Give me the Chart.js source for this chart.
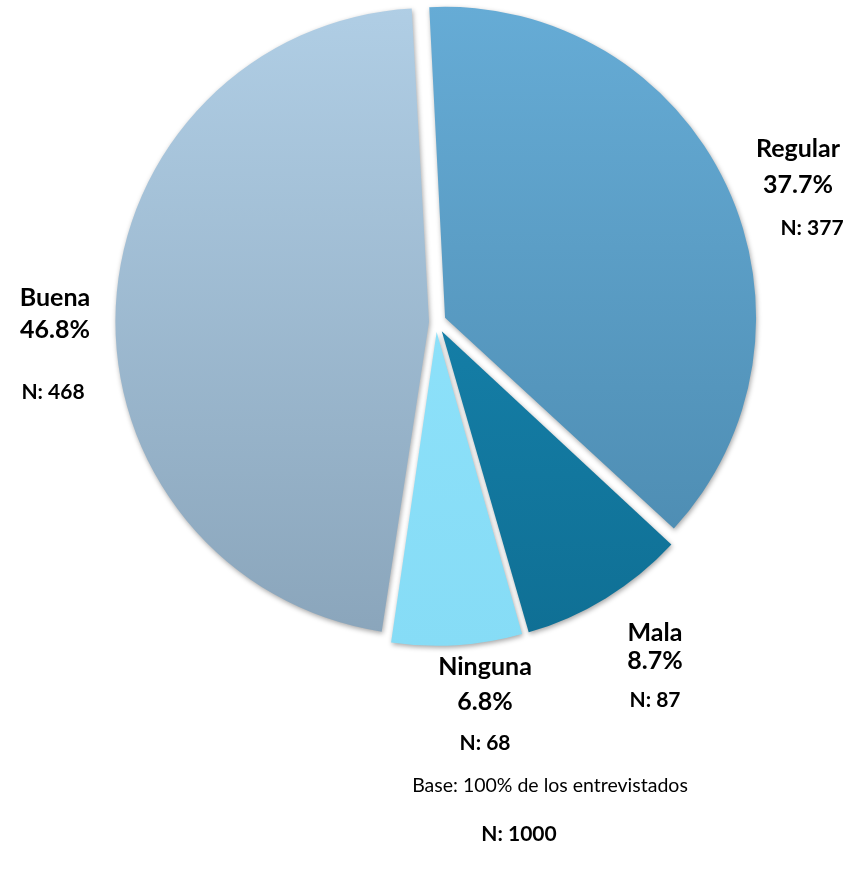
<!DOCTYPE html>
<html>
<head>
<meta charset="utf-8">
<script src="https://cdn.jsdelivr.net/npm/chart.js@4.4.1/dist/chart.umd.min.js"></script>
<style>
  html, body { margin: 0; padding: 0; background: #fff; }
  #wrap { width: 846px; height: 876px; position: relative; }
</style>
</head>
<body>
<div id="wrap"><canvas id="pieChart" width="846" height="876"></canvas></div>
<script>
'use strict';
// data
let categories = ['Regular', 'Mala', 'Ninguna', 'Buena'];
let percents = [37.7, 8.7, 6.8, 46.8];
let counts = [377, 87, 68, 468];
let totalN = 1000;
let baseText = 'Base: 100% de los entrevistados';

// top / bottom colour of each slice
let topColors = ['#66acd6', '#1a8cb8', '#93e5fd', '#b0cee5'];
let bottomColors = ['#4a88ad', '#0f6f94', '#86dcf6', '#8aa5bb'];
// chart.js moves an arc by offset/4 px
let sliceOffsets = [40, 44, 40, 28];

// where each label block sits (name line), and line steps
let labelPlaces = [
  { x: 798, y: 149, nx: 812, step1: 36, step2: 79 },
  { x: 655, y: 633, nx: 655, step1: 28, step2: 67 },
  { x: 485, y: 667, nx: 485, step1: 35, step2: 76 },
  { x: 55, y: 298, nx: 53, step1: 32, step2: 94 }
];

function sliceGradient(context) {
  let chart = context.chart;
  let area = chart.chartArea;
  if (!area) return topColors[context.dataIndex];
  let g = chart.ctx.createLinearGradient(0, area.top, 0, area.bottom);
  g.addColorStop(0, topColors[context.dataIndex]);
  g.addColorStop(1, bottomColors[context.dataIndex]);
  return g;
}

let shadowPlugin = {
  id: 'shadowPlugin',
  beforeDatasetsDraw(chart) {
    let ctx = chart.ctx;
    ctx.save();
    ctx.shadowColor = 'rgba(0,0,0,0.35)';
    ctx.shadowBlur = 5;
    ctx.shadowOffsetX = 1;
    ctx.shadowOffsetY = 2;
  },
  afterDatasetsDraw(chart) {
    chart.ctx.restore();
  }
};

let textPlugin = {
  id: 'textPlugin',
  afterDraw(chart) {
    let ctx = chart.ctx;
    ctx.save();
    ctx.fillStyle = '#000';
    ctx.textAlign = 'center';
    ctx.textBaseline = 'middle';
    for (let i = 0; i < categories.length; i++) {
      let p = labelPlaces[i];
      ctx.font = 'bold 25px Lato';
      ctx.fillText(categories[i], p.x, p.y);
      ctx.fillText(percents[i].toFixed(1) + '%', p.x, p.y + p.step1);
      ctx.font = 'bold 21px Lato';
      ctx.fillText('N: ' + counts[i], p.nx, p.y + p.step2);
    }
    ctx.font = '19.5px Lato';
    ctx.fillText(baseText, 550, 786);
    ctx.font = 'bold 21px Lato';
    ctx.fillText('N: ' + totalN, 519, 834);
    ctx.restore();
  }
};

let context = document.getElementById('pieChart').getContext('2d');
let chart = new Chart(context, {
  type: 'pie',
  data: {
    labels: categories,
    datasets: [{
      data: percents,
      backgroundColor: sliceGradient,
      borderWidth: 0,
      offset: sliceOffsets
    }]
  },
  options: {
    responsive: false,
    animation: false,
    rotation: -3,
    radius: 308,
    layout: { padding: { left: 118, right: 92, top: 4, bottom: 236 } },
    plugins: {
      legend: { display: false },
      tooltip: { enabled: false }
    }
  },
  plugins: [shadowPlugin, textPlugin]
});
</script>
</body>
</html>
